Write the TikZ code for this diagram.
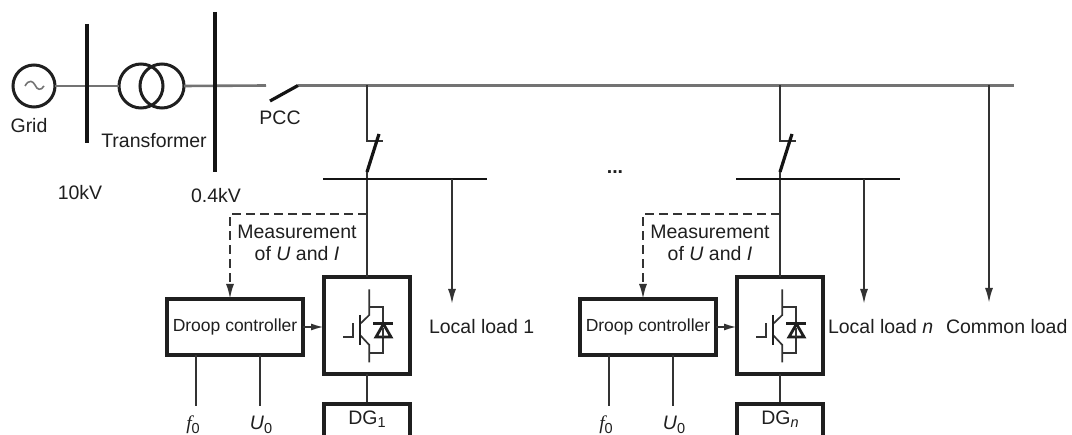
\documentclass[tikz,border=0pt]{standalone}
\usepackage{fontspec}
\setmainfont{Liberation Sans}
\newfontfamily\serifit{Liberation Serif}
\usetikzlibrary{arrows.meta}
\newcommand{\sbt}[1]{\raisebox{-3.5pt}{\fontsize{14.5}{15}\selectfont #1}}
\tikzset{
  x=1pt,y=-1pt,
  lbl/.style={inner sep=0pt,outer sep=0pt,text=black!88,font=\fontsize{19.5}{22}\selectfont},
  smalllbl/.style={inner sep=0pt,outer sep=0pt,text=black!88,font=\fontsize{17.5}{20}\selectfont},
  feeder/.style={draw=black!55,line width=2.6pt},
  wire/.style={draw=black!80,line width=2pt},
  bar/.style={draw=black!92,line width=3.6pt},
  hbar/.style={draw=black!92,line width=2.6pt},
  swblade/.style={draw=black!92,line width=3.2pt},
  ring/.style={circle,draw=black!88,line width=3pt,minimum size=42pt,inner sep=0pt,outer sep=0pt},
  heavybox/.style={rectangle,draw=black!88,line width=3.8pt,inner sep=0pt,outer sep=0pt,fill=none},
  arrowwire/.style={wire,-{Latex[length=15pt,width=8pt]}},
  shortarrow/.style={wire,-{Latex[length=13pt,width=7pt]}},
  dashwire/.style={wire,dash pattern=on 9pt off 5pt,-{Latex[length=15pt,width=8pt]}},
  igbt/.style={draw=black!80,line width=1.7pt},
  igbtbar/.style={draw=black!88,line width=2.8pt},
}
\begin{document}
\begin{tikzpicture}
\path[use as bounding box,fill=white] (0,0) rectangle (1072,435);

% supply side
\node[ring] (grid) at (34,86) {};
\draw[draw=black!55,line width=1.6pt] (25,86) .. controls (29,79) and (33,81) .. (35,85) .. controls (37,90) and (41,91) .. (44,86);
\node[ring,minimum size=44pt] (t1) at (141,86) {};
\node[ring,minimum size=44pt] (t2) at (162,86) {};
\coordinate (b1a) at (87,24); \coordinate (b1b) at (87,143);
\coordinate (b2a) at (215,12); \coordinate (b2b) at (215,172);
\coordinate (pccL) at (266,85.5);
\coordinate (pccA) at (270,101);
\coordinate (pccR) at (298,85.5);
\coordinate (busEnd) at (1014,85.5);
\draw[feeder] (grid.east) -- (t1.west);
\draw[feeder] (t2.east) -- (pccL);
\draw[feeder] (pccR) -- (busEnd);
\draw[swblade] (pccA) -- (pccR);
\draw[bar] (b1a) -- (b1b);
\draw[bar] (b2a) -- (b2b);

\node[lbl] (lgrid) at (29,126) {Grid};
\node[lbl] (ltr) at (154,141) {Transformer};
\node[lbl] (lpcc) at (280,118) {PCC};
\node[lbl] (l10) at (80,193) {10kV};
\node[lbl] (l04) at (216,196) {0.4kV};
\node[lbl,font=\fontsize{19.5}{22}\bfseries] (ldots) at (615,172) {...};

% two units
\foreach \dx/\idx/\barend/\loadx/\sub in {0/a/487/452/{\sbt{1}},413/b/900/864/{\sbt{\itshape n}}}{
  \begin{scope}[shift={(\dx,0)}]
    \coordinate (tap\idx) at (366.5,85.5);
    \coordinate (kink\idx) at (366.5,141.5);
    \coordinate (stub\idx) at (383,141.5);
    \coordinate (bladeA\idx) at (379,134);
    \coordinate (bladeB\idx) at (367,172);
    \coordinate (barL\idx) at (323,179);
    \coordinate (meas\idx) at (366.5,214);
    \coordinate (dcorner\idx) at (230,214);
    \node[heavybox,minimum width=86pt,minimum height=97pt] (conv\idx) at (367,325.5) {};
    \node[heavybox,minimum width=136pt,minimum height=56pt] (droop\idx) at (235,327) {};
    \node[smalllbl] at (droop\idx.center) {Droop controller};
    \coordinate (dgTop\idx) at (367,404);
    \coordinate (f\idx) at (196,406);
    \coordinate (u\idx) at (260,406);
    \draw[wire] (tap\idx) -- (kink\idx) -- (stub\idx);
    \draw[swblade] (bladeA\idx) -- (bladeB\idx);
    \draw[wire] (bladeB\idx) -- (conv\idx.north -| bladeB\idx);
    \draw[hbar] (barL\idx) -- (\barend-\dx,179);
    \draw[dashwire] (meas\idx) -- (dcorner\idx) -- (droop\idx.north -| dcorner\idx);
    \draw[shortarrow] (droop\idx.east) -- (conv\idx.west |- droop\idx.east);
    \draw[wire] (droop\idx.south -| f\idx) -- (f\idx);
    \draw[wire] (droop\idx.south -| u\idx) -- (u\idx);
    \draw[wire] (conv\idx.south) -- (dgTop\idx);
    \draw[draw=black!88,line width=3.8pt] (324,436) -- (324,404) -- (410,404) -- (410,436);
    \node[lbl,align=center] (mlab\idx) at (297,243) {Measurement\\of \textit{U} and \textit{I}};
    \node[lbl] (flab\idx) at (193,425) {{\serifit\itshape f}\sbt{0}};
    \node[lbl] (ulab\idx) at (261,425) {\textit{U}\sbt{0}};
    \node[lbl] (dglab\idx) at (367,419) {DG\sub};
    % IGBT and diode
    \draw[igbt] (369.3,289.3) -- (369.3,315) -- (360,324);
    \draw[igbt] (360,335) -- (369.3,345) -- (369.3,362.3);
    \draw[igbtbar] (360,315) -- (360,345);
    \draw[igbt] (343.3,336.7) -- (352.7,336.7) -- (352.7,322.7);
    \draw[igbt] (369.3,306.7) -- (383.3,306.7) -- (383.3,352.7) -- (369.3,352.7);
    \draw[igbtbar,fill=white,line join=miter] (376,337) -- (391,337) -- (383.5,324) -- cycle;
    \draw[igbtbar] (373.3,323.3) -- (392.7,323.3);
    \draw[igbt] (383.3,328) -- (383.3,337);
  \end{scope}
  \draw[arrowwire] (\loadx,179) -- (\loadx,304);
}
\node[lbl,anchor=west] (ll1) at (429,327) {Local load 1};
\node[lbl,anchor=west] (lln) at (828,327) {Local load \textit{n}};
\node[lbl,anchor=west] (lcl) at (946,327) {Common load};
\coordinate (ctap) at (989,85.5);
\coordinate (cend) at (989,303);
\draw[arrowwire] (ctap) -- (cend);
\end{tikzpicture}
\end{document}
